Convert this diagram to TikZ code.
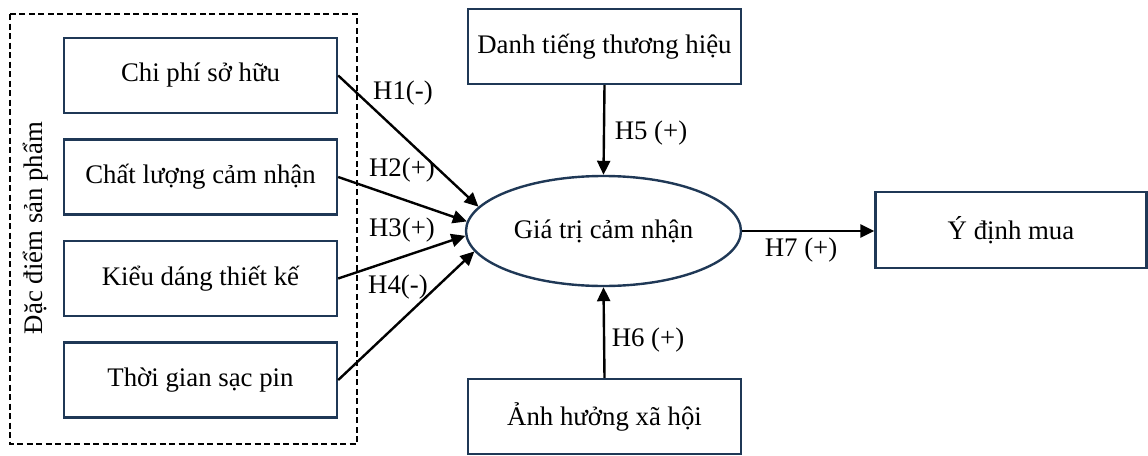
\documentclass[tikz,border=0pt]{standalone}
\usepackage{fontspec}
\setmainfont{Liberation Serif}
\usetikzlibrary{arrows.meta,shapes.geometric}
\definecolor{boxblue}{RGB}{31,56,86}
\begin{document}
\begin{tikzpicture}[x=1pt,y=-1pt,
  every node/.style={font=\fontsize{26.8}{30}\selectfont, inner sep=0pt},
  factor/.style={draw=boxblue, line width=2.4pt, rectangle, minimum width=273pt, minimum height=75pt},
  centre/.style={draw=boxblue, line width=2.4pt, ellipse, minimum width=275pt, minimum height=110pt},
  link/.style={draw=black, line width=2.4pt, -{Triangle[length=14pt,width=13pt]}},
  group/.style={draw=black, line width=2.4pt, dash pattern=on 6pt off 3.5pt}]
\useasboundingbox (0,0) rectangle (1148,455);
\draw[group] (10,14) rectangle (357,444);
\node[rotate=90] (grp) at (36,228) {Đặc điểm sản phẩm};
\node[factor] (b1) at (200.5,75.5) {Chi phí sở hữu};
\node[factor] (b2) at (200.5,177) {Chất lượng cảm nhận};
\node[factor] (b3) at (200.5,278.5) {Kiểu dáng thiết kế};
\node[factor] (b4) at (200.5,380) {Thời gian sạc pin};
\node[factor] (dt) at (604.5,46.5) {Danh tiếng thương hiệu};
\node[factor] (ah) at (604.5,416.5) {Ảnh hưởng xã hội};
\node[centre] (g) at (603.5,231) {Giá trị cảm nhận};
\node[factor, minimum width=271pt, minimum height=76pt] (y) at (1011,230) {Ý định mua};
\draw[link] (b1.east) -- (g.169.5);
\draw[link] (b2.east) -- (g.176);
\draw[link] (b3.east) -- (g.182.5);
\draw[link] (b4.east) -- (g.189.5);
\draw[link] (dt.south) -- (g.north);
\draw[link] (ah.north) -- (g.south);
\draw[link] (g.east) -- (y.west |- g.east);
\node (h1) at (403,93) {H1(-)};
\node (h2) at (402,170) {H2(+)};
\node (h3) at (402,230) {H3(+)};
\node (h4) at (398,287) {H4(-)};
\node (h5) at (651,133) {H5 (+)};
\node (h6) at (648,340) {H6 (+)};
\node (h7) at (801,250) {H7 (+)};
\end{tikzpicture}
\end{document}
